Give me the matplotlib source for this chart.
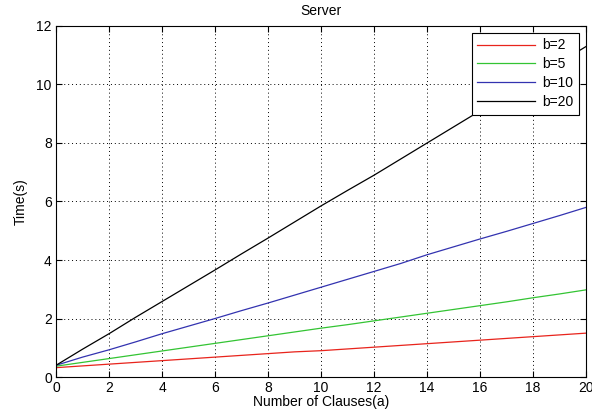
import numpy as np
import matplotlib.pyplot as plt

plt.rcParams['font.family'] = ['Liberation Sans', 'DejaVu Sans']

clauses = list(range(0, 21))
t_b2 = [0.32, 0.38, 0.44, 0.50, 0.56, 0.62, 0.68, 0.74, 0.80, 0.86, 0.90,
        0.96, 1.02, 1.08, 1.14, 1.20, 1.26, 1.32, 1.38, 1.44, 1.50]
t_b5 = [0.37, 0.50, 0.63, 0.76, 0.89, 1.02, 1.15, 1.28, 1.41, 1.54, 1.67,
        1.79, 1.92, 2.05, 2.18, 2.31, 2.44, 2.57, 2.71, 2.84, 2.98]
t_b10 = [0.40, 0.68, 0.93, 1.20, 1.48, 1.74, 2.00, 2.27, 2.53, 2.80, 3.07,
         3.34, 3.61, 3.88, 4.18, 4.45, 4.72, 4.98, 5.25, 5.52, 5.80]
t_b20 = [0.40, 0.95, 1.48, 2.04, 2.58, 3.12, 3.66, 4.21, 4.75, 5.30, 5.85,
         6.38, 6.90, 7.45, 8.00, 8.55, 9.10, 9.65, 10.20, 10.75, 11.30]
labels = ['b=2', 'b=5', 'b=10', 'b=20']

fig = plt.figure(figsize=(5.92, 4.19), dpi=100)
ax = fig.add_axes([0.0946, 0.1002, 0.8955, 0.8378])

ax.plot(clauses, t_b2, color='#e8241c', lw=0.9, label=labels[0])
ax.plot(clauses, t_b5, color='#33c433', lw=0.9, label=labels[1])
ax.plot(clauses, t_b10, color='#3333b0', lw=0.9, label=labels[2])
ax.plot(clauses, t_b20, color='black', lw=0.9, label=labels[3])

ax.set_xlim(0, 20)
ax.set_ylim(0, 12)
ax.set_xticks(np.arange(0, 21, 2))
ax.set_yticks(np.arange(0, 13, 2))
ax.grid(True, color='black', linestyle=(0, (1, 3)), linewidth=0.7)
ax.tick_params(direction='in', top=True, right=True, labelsize=10, length=4, pad=3)
for s in ax.spines.values():
    s.set_linewidth(0.8)

ax.set_title('Server', fontsize=10, pad=8)
ax.set_xlabel('Number of Clauses(a)', fontsize=10, labelpad=0)
ax.set_ylabel('Time(s)', fontsize=10, labelpad=6)

leg = ax.legend(loc='upper right', fontsize=10, fancybox=False, framealpha=1,
                edgecolor='black', handlelength=4.2, borderaxespad=0.5,
                labelspacing=0.35, handletextpad=0.5, borderpad=0.4)
leg.get_frame().set_linewidth(0.8)

plt.savefig('out.png', dpi=100)
